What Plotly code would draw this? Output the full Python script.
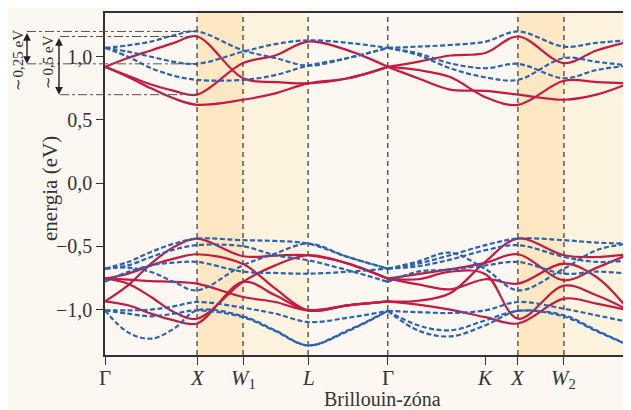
import plotly.graph_objects as go

# ---------------- data ----------------
# high-symmetry points along the path (path length units)
tick_pos = [0.0, 1.0, 1.5, 2.207, 3.073, 4.134, 4.487, 4.987, 5.694]
tick_text = ["Γ", "<i>X</i>", "<i>W</i><sub>1</sub>", "<i>L</i>", "Γ",
             "<i>K</i>", "<i>X</i>", "<i>W</i><sub>2</sub>", "<i>L</i>"]
vlines = [1.0, 1.5, 2.207, 3.073, 4.487, 4.987]
dark_bands = [(1.0, 1.5), (4.487, 4.987)]
light_bands = [(1.5, 2.207), (4.987, 5.694)]

# node positions: left path Γ-X-W1-L-Γ, right path Γ-K-X-W2-L
k_left = [0.0, 0.25, 0.5, 0.75, 1.0, 1.5, 1.85, 2.207, 2.64, 3.073]
k_right = [3.073, 3.4, 3.75, 4.134, 4.487, 4.987, 5.34, 5.694]

# conduction bands (eV)
cond_red_left = [
    [0.92, 0.99, 1.05, 1.11, 1.16, 0.83, 0.80, 0.79, 0.83, 0.92],
    [0.92, 0.85, 0.78, 0.73, 0.70, 0.95, 1.01, 1.12, 1.05, 0.92],
    [0.92, 0.84, 0.75, 0.67, 0.62, 0.66, 0.71, 0.79, 0.83, 0.92],
]
cond_red_right = [
    [0.92, 0.96, 1.01, 1.03, 1.16, 0.95, 1.05, 1.12],
    [0.92, 0.83, 0.74, 0.73, 0.70, 0.66, 0.70, 0.79],
    [0.92, 0.895, 0.84, 0.68, 0.62, 0.81, 0.80, 0.79],
]
cond_blue_left = [
    [1.07, 1.09, 1.12, 1.17, 1.20, 1.05, 0.99, 0.93, 0.99, 1.07],
    [1.07, 1.04, 1.00, 0.96, 0.944, 1.04, 1.10, 1.13, 1.11, 1.07],
    [1.07, 1.00, 0.91, 0.85, 0.817, 0.817, 0.855, 0.93, 0.99, 1.07],
]
cond_blue_right = [
    [1.07, 1.08, 1.093, 1.12, 1.20, 1.08, 1.11, 1.13],
    [1.07, 1.027, 0.948, 0.909, 0.944, 0.83, 0.895, 0.93],
    [1.07, 1.014, 0.909, 0.837, 0.817, 0.99, 0.96, 0.93],
]

# valence bands (eV)
val_red_left = [
    [-0.935, -0.808, -0.636, -0.504, -0.438, -0.578, -0.573, -0.57, -0.636, -0.755],
    [-0.755, -0.716, -0.65, -0.597, -0.562, -0.64, -0.834, -1.006, -0.966, -0.935],
    [-0.755, -0.763, -0.774, -0.78, -0.795, -0.90, -0.94, -1.006, -0.966, -0.935],
    [-0.755, -0.795, -0.90, -1.02, -1.072, -0.78, -0.65, -0.57, -0.636, -0.755],
    [-0.935, -0.966, -1.032, -1.085, -1.11, -0.78, -0.887, -1.006, -0.966, -0.935],
]
val_red_right = [
    [-0.935, -0.93, -0.87, -0.62, -0.438, -0.57, -0.584, -0.562],
    [-0.755, -0.72, -0.68, -0.63, -0.562, -0.768, -0.67, -0.562],
    [-0.755, -0.80, -0.84, -0.76, -0.795, -0.636, -0.742, -1.006],
    [-0.755, -0.76, -0.70, -0.72, -1.072, -0.81, -0.887, -1.006],
    [-0.935, -0.96, -1.00, -1.06, -1.11, -0.913, -0.953, -1.006],
]
val_blue_left = [
    [-0.676, -0.623, -0.544, -0.478, -0.438, -0.451, -0.457, -0.478, -0.584, -0.676],
    [-0.676, -0.65, -0.584, -0.525, -0.49, -0.499, -0.57, -0.61, -0.689, -0.78],
    [-0.78, -0.702, -0.65, -0.628, -0.623, -0.70, -0.71, -0.716, -0.70, -0.676],
    [-0.676, -0.668, -0.702, -0.782, -0.848, -0.649, -0.557, -0.478, -0.584, -0.676],
    [-1.006, -1.006, -1.0, -0.974, -0.94, -0.985, -1.032, -1.098, -1.064, -1.01],
    [-1.006, -1.18, -1.23, -1.15, -1.006, -1.053, -1.164, -1.283, -1.164, -1.01],
    [-1.006, -1.032, -1.053, -1.032, -1.006, -1.06, -1.17, -1.283, -1.17, -1.01],
]
val_blue_right = [
    [-0.676, -0.636, -0.57, -0.49, -0.438, -0.451, -0.47, -0.478],
    [-0.676, -0.657, -0.605, -0.53, -0.49, -0.583, -0.623, -0.61],
    [-0.676, -0.62, -0.55, -0.68, -0.848, -0.676, -0.53, -0.478],
    [-0.78, -0.70, -0.684, -0.65, -0.623, -0.716, -0.70, -0.716],
    [-1.01, -1.02, -1.027, -1.006, -0.94, -0.993, -1.045, -1.098],
    [-1.01, -1.124, -1.164, -1.085, -1.01, -1.045, -1.164, -1.283],
    [-1.01, -1.164, -1.212, -1.124, -1.01, -1.055, -1.17, -1.283],
]

y_tick_vals = [-1.0, -0.5, 0.0, 0.5, 1.0]
y_tick_text = ["\u22121,0", "\u22120,5", "0,0", "0,5", "1,0"]

# ---------------- style ----------------
RED = "#c41b45"
BLUE = "#2a62b4"
TXT = "#333333"
FONT = "Liberation Serif"
BG = "#fcf8f1"

# page has an 8px body margin: figure is sized so it fits the 631x410 window
FIG_W, FIG_H = 623, 402
ML, MR, MT, MB = 97, 2, 5, 55
PW = FIG_W - ML - MR   # 524
PH = FIG_H - MT - MB   # 342
OFF = 8

def px2paper(px):   # window pixel x -> paper
    return (px - OFF - ML) / PW

def py2paper(py):   # window pixel y -> paper
    return 1 - (py - OFF - MT) / PH

fig = go.Figure()

def add_bands(k, bands, color, dash):
    for b in bands:
        fig.add_trace(go.Scatter(
            x=k, y=b, mode="lines", hoverinfo="skip", showlegend=False,
            line=dict(color=color, width=2.2, dash=dash, shape="spline", smoothing=1.0)))

for k, bands in [(k_left, cond_red_left), (k_right, cond_red_right),
                 (k_left, val_red_left), (k_right, val_red_right)]:
    add_bands(k, bands, RED, "solid")
for k, bands in [(k_left, cond_blue_left), (k_right, cond_blue_right),
                 (k_left, val_blue_left), (k_right, val_blue_right)]:
    add_bands(k, bands, BLUE, "5px,2.5px")

shapes = []
for x0, x1 in dark_bands:
    shapes.append(dict(type="rect", xref="x", yref="paper", x0=x0, x1=x1, y0=0, y1=1,
                       fillcolor="#fde8c3", line=dict(width=0), layer="below"))
for x0, x1 in light_bands:
    shapes.append(dict(type="rect", xref="x", yref="paper", x0=x0, x1=x1, y0=0, y1=1,
                       fillcolor="#fef3df", line=dict(width=0), layer="below"))
for xv in vlines:
    shapes.append(dict(type="line", xref="x", yref="paper", x0=xv, x1=xv, y0=0, y1=1,
                       line=dict(color="#333333", width=1.2, dash="5px,4px"), layer="below"))

# dash-dot reference lines (top-left energy splittings)
x_X = px2paper(196.7)
ref_lines = [(1.20, 27), (0.944, 27), (1.16, 60), (0.70, 60)]
for yv, pxs in ref_lines:
    shapes.append(dict(type="line", xref="paper", yref="y", x0=px2paper(pxs), x1=x_X,
                       y0=yv, y1=yv, line=dict(color="#555555", width=1, dash="dashdot")))

annotations = []
# double arrows
for xp, ytop, ybot in [(27, 1.20, 0.944), (59, 1.16, 0.70)]:
    annotations.append(dict(xref="paper", yref="y", x=px2paper(xp), y=ybot,
                            axref="pixel", ayref="y", ax=0, ay=ytop, text="",
                            showarrow=True, arrowhead=2, startarrowhead=2,
                            arrowside="end+start", arrowsize=1.1, arrowwidth=1.4,
                            arrowcolor="#222222", standoff=0, startstandoff=0))
annotations.append(dict(xref="paper", yref="paper", x=px2paper(17), y=py2paper(28),
                        xanchor="center", yanchor="top",
                        text="\u223c0,25 eV", textangle=-90, showarrow=False,
                        font=dict(family=FONT, size=15, color=TXT)))
annotations.append(dict(xref="paper", yref="paper", x=px2paper(48), y=py2paper(34),
                        xanchor="center", yanchor="top",
                        text="\u223c0,5 eV", textangle=-90, showarrow=False,
                        font=dict(family=FONT, size=15, color=TXT)))
# axis titles
annotations.append(dict(xref="paper", yref="paper", x=px2paper(50), y=py2paper(189),
                        xanchor="center", yanchor="middle",
                        text="energia (eV)", textangle=-90, showarrow=False,
                        font=dict(family=FONT, size=21, color=TXT)))
annotations.append(dict(xref="paper", yref="paper", x=px2paper(382), y=py2paper(399),
                        xanchor="center", yanchor="middle",
                        text="Brillouin-zóna", showarrow=False,
                        font=dict(family=FONT, size=20, color=TXT)))
# x tick labels
for pos, lab in zip(tick_pos, tick_text):
    annotations.append(dict(xref="x", yref="paper", x=pos, y=py2paper(364),
                            text=lab, showarrow=False, yanchor="top", xanchor="center",
                            font=dict(family=FONT, size=21, color=TXT)))

fig.update_layout(
    width=FIG_W, height=FIG_H,
    margin=dict(l=ML, r=MR, t=MT, b=MB, autoexpand=False),
    paper_bgcolor=BG, plot_bgcolor=BG,
    shapes=shapes, annotations=annotations,
    font=dict(family=FONT, color=TXT),
)
fig.update_xaxes(range=[0, 5.694], tickvals=tick_pos, showticklabels=False,
                 showgrid=False, zeroline=False, showline=True, mirror=True,
                 linecolor="#333333", linewidth=1.5, ticks="outside", ticklen=8,
                 tickwidth=1.3, tickcolor="#333333")
fig.update_yaxes(range=[-1.359, 1.346], tickvals=y_tick_vals, ticktext=y_tick_text,
                 showgrid=False, zeroline=False, showline=True, mirror=True,
                 linecolor="#333333", linewidth=1.5, ticks="outside", ticklen=7,
                 tickwidth=1.3, tickcolor="#333333",
                 tickfont=dict(family=FONT, size=20, color=TXT))

fig.write_html("out.html")
